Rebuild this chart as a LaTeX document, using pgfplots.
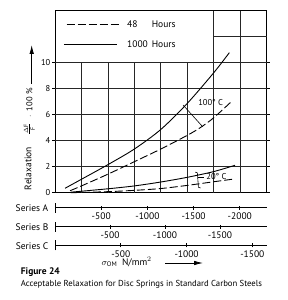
\documentclass[border=0pt]{standalone}
\usepackage{fontspec}
\setmainfont{PT Sans}
\usepackage{pgfplots}
\pgfplotsset{compat=1.18}
\usetikzlibrary{arrows.meta}
\begin{document}
\begin{tikzpicture}[x=1pt,y=1pt]
\path[use as bounding box] (0pt,0pt) rectangle (288pt,300pt);
% ---------------- main chart ----------------
\begin{axis}[at={(55pt,107.3pt)}, anchor=south west, scale only axis,
  width=211.7pt, height=181.7pt,
  xmin=0, xmax=8, ymin=0, ymax=13.93,
  xtick=\empty, ytick={0,2,4,6,8,10}, yticklabels={0,2,4,6,8,10},
  tick align=outside, major tick length=3pt,
  tick style={line width=0.8pt, black},
  yticklabel style={font=\fontsize{8.5}{9}\selectfont, inner sep=1.5pt},
  axis line style={line width=1pt}, clip=false]
% grid
\draw[line width=0.7pt, black!85] (1,0) -- (1,10) (2,0) -- (2,10) (3,0) -- (3,10) (4,0) -- (4,10) (5,0) -- (5,10)
  (6,0) -- (6,13.93) (7,0) -- (7,13.93)
  (0,2) -- (8,2) (0,4) -- (8,4) (0,6) -- (8,6) (0,8) -- (8,8) (0,10) -- (8,10) (6,12) -- (8,12);
% 100 C, 1000 h (solid)
\addplot[smooth, line width=0.9pt] coordinates {(0.38,0.34)(1,1.03)(2,2.15)(3,3.35)(4,4.85)(5,6.85)(6,9.2)(6.59,10.74)};
% 100 C, 48 h (dashed)
\addplot[smooth, line width=0.9pt, dash pattern=on 8pt off 3pt] coordinates {(0.57,0.15)(1,0.52)(2,1.42)(3,2.38)(4,3.35)(5,4.4)(5.5,5.0)(6,5.75)(6.7,7.05)};
% 20 C, 1000 h (solid)
\addplot[smooth, line width=0.9pt] coordinates {(0.6,0.04)(2,0.3)(3,0.52)(4,0.82)(5,1.18)(6,1.62)(6.8,2.1)};
% 20 C, 48 h (dashed)
\addplot[smooth, line width=0.9pt, dash pattern=on 8pt off 3pt] coordinates {(0.6,0.0)(2,0.08)(3,0.18)(4,0.32)(5,0.56)(6,0.84)(6.8,1.06)};
% markers
\addplot[line width=0.6pt] coordinates {(4.84,6.72)(5.58,5.06)};
\node[font=\fontsize{8.5}{9}\selectfont] at (5.88,6.95) {100° C};
\addplot[line width=0.6pt] coordinates {(5.3,1.58)(5.38,1.52)(5.42,0.42)(5.5,0.36)};
\addplot[line width=0.6pt] coordinates {(5.41,1.15)(5.62,1.15)};
\node[font=\fontsize{8.5}{9}\selectfont] at (6.1,1.24) {20° C};
% legend
\addplot[line width=0.9pt, dash pattern=on 8pt off 3pt] coordinates {(0.44,12.91)(2.42,12.91)};
\addplot[line width=0.9pt] coordinates {(0.34,11.38)(2.34,11.38)};
\node[anchor=west, inner sep=0pt, font=\fontsize{9.5}{10}\selectfont] at (2.72,12.91) {48};
\node[anchor=west, inner sep=0pt, font=\fontsize{9.5}{10}\selectfont] at (3.65,12.91) {Hours};
\node[anchor=west, inner sep=0pt, font=\fontsize{9.5}{10}\selectfont] at (2.72,11.38) {1000};
\node[anchor=west, inner sep=0pt, font=\fontsize{9.5}{10}\selectfont] at (3.65,11.38) {Hours};
\end{axis}
% ---------------- series scales ----------------
\pgfplotsset{serscale/.style={anchor=south west, scale only axis, width=211.7pt, height=1pt,
  ymin=0, ymax=1, axis x line*=bottom, axis y line=none,
  tick align=center, major tick length=4pt,
  tick style={line width=0.7pt, black}, axis line style={line width=0.8pt},
  extra x ticks={0}, extra x tick labels={}, extra x tick style={major tick length=10pt},
  xticklabel style={font=\fontsize{9.5}{10}\selectfont, inner sep=1pt, yshift=-1.8pt}}}
\begin{axis}[serscale, at={(55pt,92.3pt)}, xmin=0, xmax=2291,
  xtick={500,1000,1500,2000}, xticklabels={-500,-1000,-1500,-2000}]
\addplot[draw=none] coordinates {(0,0)};
\end{axis}
\begin{axis}[serscale, at={(55pt,73.3pt)}, xmin=0, xmax=1925,
  xtick={500,1000,1500}, xticklabels={-500,-1000,-1500}]
\addplot[draw=none] coordinates {(0,0)};
\end{axis}
\begin{axis}[serscale, at={(55pt,54.7pt)}, xmin=0, xmax=1609,
  xtick={500,1000,1500}, xticklabels={-500,-1000,-1500}]
\addplot[draw=none] coordinates {(0,0)};
\end{axis}
\node[anchor=east, font=\fontsize{9.5}{10}\selectfont, inner sep=0pt] at (48.5pt,91.7pt) {Series A};
\node[anchor=east, font=\fontsize{9.5}{10}\selectfont, inner sep=0pt] at (48.5pt,72.7pt) {Series B};
\node[anchor=east, font=\fontsize{9.5}{10}\selectfont, inner sep=0pt] at (48.5pt,54.1pt) {Series C};
% x label with arrow
\node[anchor=west, inner sep=0pt, font=\fontsize{9.5}{10}\selectfont] at (101.5pt,38.3pt) {$\sigma_{\mathrm{OM}}$\enspace N/mm$^2$};
\draw[line width=0.8pt, -{Latex[length=9pt,width=4.5pt]}] (165pt,37pt) -- (203pt,37pt);
% y label
\node[rotate=90, font=\fontsize{9.5}{10}\selectfont, inner sep=0pt] at (28pt,131.5pt) {Relaxation};
\node[rotate=90, font=\fontsize{9}{10}\selectfont, inner sep=0pt] at (29.5pt,171pt) {$\frac{\Delta\mathrm{F}}{\mathrm{F}}$};
\node[rotate=90, font=\fontsize{8.5}{9}\selectfont, inner sep=0pt] at (29.5pt,197pt) {$\cdot$\enspace 100 \%};
\draw[line width=0.8pt, -{Latex[length=9pt,width=4.5pt]}] (31.7pt,216pt) -- (31.7pt,255pt);
% captions
\node[anchor=west, inner sep=0pt, font=\bfseries\fontsize{9.5}{11}\selectfont] at (20.7pt,28.3pt) {Figure 24};
\node[anchor=west, inner sep=0pt, font=\fontsize{8.7}{10}\selectfont] at (20.7pt,16pt) {Acceptable Relaxation for Disc Springs in Standard Carbon Steels};
\end{tikzpicture}
\end{document}
